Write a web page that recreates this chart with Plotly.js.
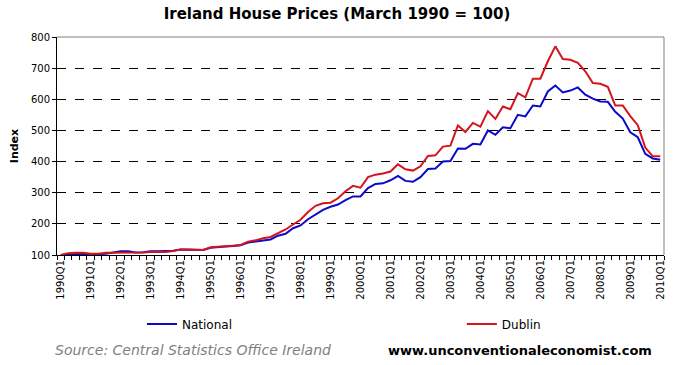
<!DOCTYPE html>
<html>
<head>
<meta charset="utf-8">
<script src="https://cdn.plot.ly/plotly-3.0.1.min.js"></script>
<style>html,body{margin:0;padding:0;background:#fff;}#chart{width:674px;height:365px;}</style>
</head>
<body>
<div id="chart"></div>
<script>
// Quarterly categories 1990Q1 .. 2010Q1
const years = [1990,1991,1992,1993,1994,1995,1996,1997,1998,1999,2000,2001,2002,2003,2004,2005,2006,2007,2008,2009,2010];
const quarters = [];
years.forEach(y => { ['Q1','Q2','Q3','Q4'].forEach(q => { if (y < 2010 || q === 'Q1') quarters.push(y + q); }); });
const tickLabels = years.map(y => y + 'Q1');

const national = [
  100,102,103,103, 102,103,104,107, 112,112,108,109, 112,112,112,114,
  118,118,116,116, 123,124,127,129, 131,140,144,148, 150,162,168,186,
  195,215,230,245, 255,262,276,288, 288,315,328,330, 340,354,338,335,
  350,376,378,400, 402,442,441,457, 455,500,486,510, 507,550,545,580,
  577,625,644,622, 628,638,615,602, 593,592,560,538, 494,478,425,410,
  406
];
const dublin = [
  100,106,107,107, 104,104,107,107, 108,108,108,108, 110,110,110,113,
  118,118,116,116, 125,126,128,130, 132,143,147,154, 158,170,182,198,
  213,238,258,266, 268,282,305,322, 316,350,358,362, 368,391,375,371,
  385,418,420,448, 451,516,495,524, 512,562,537,577, 568,620,606,666,
  666,722,770,729, 727,717,690,652, 650,640,580,580, 546,517,445,417,
  417
];

const xIdx = quarters.map((q, i) => i);
const tickIdx = tickLabels.map(l => quarters.indexOf(l));

const font = 'DejaVu Sans, Verdana, sans-serif';

const traces = [
  {x: xIdx, y: national, name: 'National', type: 'scatter', mode: 'lines', legend: 'legend',
   line: {color: '#0a0ac8', width: 2}, text: quarters, hoverinfo: 'text+y'},
  {x: xIdx, y: dublin, name: 'Dublin', type: 'scatter', mode: 'lines', legend: 'legend2',
   line: {color: '#d4141e', width: 2}, text: quarters, hoverinfo: 'text+y'}
];

const legendCommon = {orientation: 'h', xanchor: 'left', y: -0.317, yanchor: 'middle',
  font: {family: font, size: 12, color: '#000'}, bgcolor: 'rgba(0,0,0,0)'};

const layout = {
  width: 674, height: 365,
  margin: {l: 57, r: 10, t: 37, b: 110},
  paper_bgcolor: '#ffffff', plot_bgcolor: '#ffffff',
  font: {family: font, color: '#000', size: 10},
  title: {text: '<b>Ireland House Prices (March 1990 = 100)</b>', x: 0.5, xref: 'container',
          y: 1 - 13.3/365, yref: 'container', yanchor: 'middle', xanchor: 'center',
          font: {family: font, size: 15, color: '#000'}},
  xaxis: {
    range: [-0.5, 80.5], tickmode: 'array', tickvals: tickIdx, ticktext: tickLabels,
    tickangle: -90, ticks: '', showgrid: false, zeroline: false,
    showline: true, linecolor: '#000', linewidth: 1,
    tickfont: {family: font, size: 10, color: '#000'},
    minor: {tickmode: 'linear', tick0: -0.5, dtick: 1, ticks: 'outside', ticklen: 4, tickcolor: '#000', showgrid: false}
  },
  yaxis: {
    range: [100, 800], tickmode: 'linear', tick0: 100, dtick: 100,
    ticks: 'outside', ticklen: 4, tickcolor: '#000',
    showline: true, linecolor: '#000', linewidth: 1, zeroline: false,
    showgrid: true, gridcolor: '#000', griddash: 'dash', gridwidth: 1,
    tickfont: {family: font, size: 10, color: '#000'},
    title: {text: '<b>Index</b>', font: {family: font, size: 11, color: '#000'}, standoff: 10}
  },
  showlegend: true,
  legend: Object.assign({x: 0.140}, legendCommon),
  legend2: Object.assign({x: 0.667}, legendCommon),
  shapes: [
    {type: 'line', xref: 'paper', yref: 'paper', x0: 0, x1: 1, y0: 1, y1: 1, line: {color: '#808080', width: 1}, layer: 'above'},
    {type: 'line', xref: 'paper', yref: 'paper', x0: 1, x1: 1, y0: 0, y1: 1, line: {color: '#808080', width: 1}, layer: 'above'}
  ],
  annotations: [
    {text: '<i>Source: Central Statistics Office Ireland</i>', xref: 'paper', yref: 'paper',
     x: -0.006, y: -0.436, xanchor: 'left', yanchor: 'middle', showarrow: false,
     font: {family: font, size: 14, color: '#808080'}},
    {text: '<b>www.unconventionaleconomist.com</b>', xref: 'paper', yref: 'paper',
     x: 0.5425, y: -0.436, xanchor: 'left', yanchor: 'middle', showarrow: false,
     font: {family: font, size: 13, color: '#000'}}
  ]
};

Plotly.newPlot('chart', traces, layout, {displayModeBar: false, staticPlot: true});
</script>
</body>
</html>
